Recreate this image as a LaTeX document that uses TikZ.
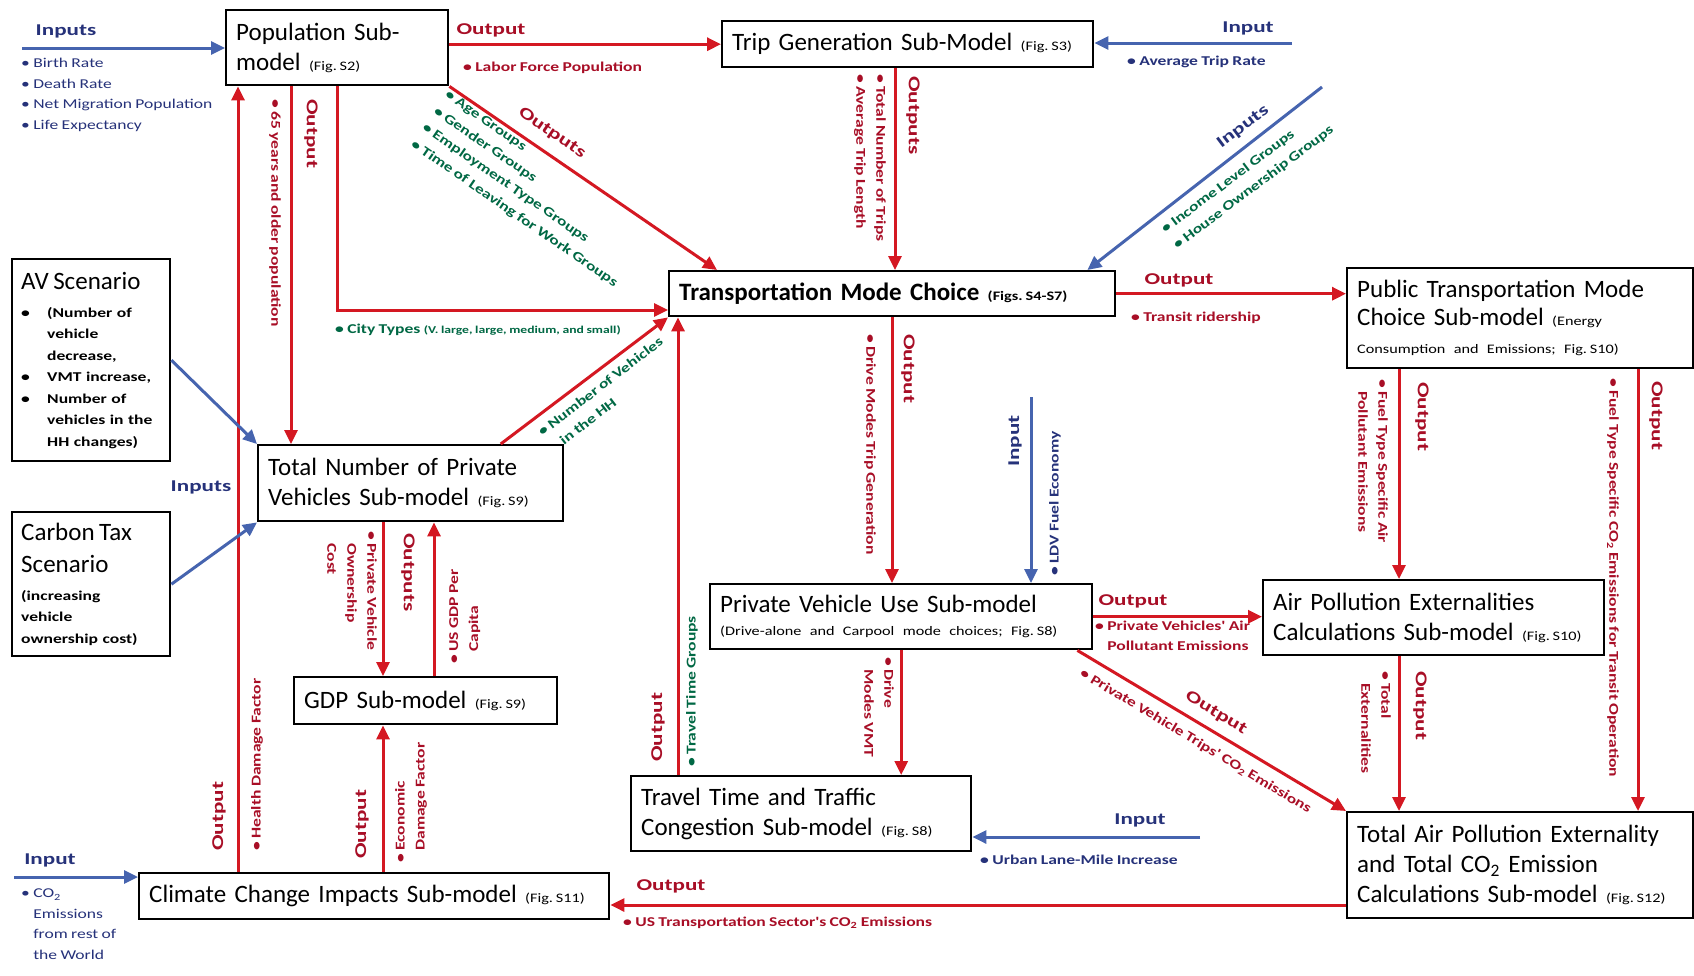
\documentclass[tikz,border=0pt]{standalone}
\usepackage{fontspec}
\setmainfont{Carlito}
\newfontfamily\carlA[FakeStretch=1.3,WordSpace=0.85]{Carlito}
\newfontfamily\carlB[FakeStretch=1.4]{Carlito}
\newfontfamily\carlC[FakeStretch=1.25,WordSpace=0.8]{Carlito}
\usetikzlibrary{arrows.meta}
\definecolor{arrred}{RGB}{212,24,34}
\definecolor{arrblue}{RGB}{70,100,175}
\definecolor{txtred}{RGB}{168,14,38}
\definecolor{txtblue}{RGB}{38,50,122}
\definecolor{txtgreen}{RGB}{0,104,68}
\newcommand\fTitle{\fontsize{25}{30}\selectfont}
\newcommand\fFig{\carlC\fontsize{13}{18}\selectfont}
\newcommand\fHead{\carlB\bfseries\fontsize{16.5}{20}\selectfont}
\newcommand\fLab{\carlA\bfseries\fontsize{13.5}{20}\selectfont}
\newcommand\fList{\carlA\fontsize{13.5}{20.5}\selectfont}
\newcommand\fSmall{\carlA\bfseries\fontsize{10.5}{14}\selectfont}
\newcommand\fBoxList{\carlA\bfseries\fontsize{13.5}{21.5}\selectfont}
\newcommand\fBoxTitle{\normalfont\mdseries\fontsize{25}{30}\selectfont}
\newcommand\bul{\makebox[26pt][l]{•}}
\newcommand\nobul{\makebox[26pt]{}}
\newcommand\fsp{\hspace{0.22em}}
\tikzset{
  box/.style={draw=black, line width=2.4pt, fill=white, inner xsep=10pt, inner ysep=3pt,
    align=left, anchor=north west, font=\fTitle},
  rarr/.style={draw=arrred, line width=3pt, -{Triangle[length=14pt,width=13pt]}},
  barr/.style={draw=arrblue, line width=3pt, -{Triangle[length=14pt,width=13pt]}},
  hdred/.style={font=\fHead, text=txtred, inner sep=1pt},
  hdblue/.style={font=\fHead, text=txtblue, inner sep=1pt},
  lbred/.style={font=\fLab, text=txtred, inner sep=1pt, align=left},
  lbgreen/.style={font=\fLab, text=txtgreen, inner sep=1pt, align=left},
  lbblue/.style={font=\fLab, text=txtblue, inner sep=1pt, align=left},
  lsblue/.style={font=\fList, text=txtblue, inner sep=1pt, align=left},
}
\begin{document}
\frenchspacing
\begin{tikzpicture}[x=1pt,y=-1pt]
\fill[white] (0,0) rectangle (1694,975);
\useasboundingbox (0,0) rectangle (1694,975);

% ---------- boxes ----------
\node[box, minimum width=222pt, minimum height=75pt, text width=202pt] (pop) at (225,9)
  {Population Sub-\\model {\fFig (Fig.\fsp S2)}};
\node[box, minimum width=371pt, minimum height=46pt, text width=351pt] (trip) at (721,20)
  {Trip Generation Sub-Model {\fFig (Fig.\fsp S3)}};
\node[box, minimum width=446pt, minimum height=45pt, text width=426pt] (mode) at (668,270)
  {\bfseries Transportation Mode Choice {\fFig (Figs.\fsp S4-S7)}};
\node[box, minimum width=346pt, minimum height=100pt, text width=326pt] (pub) at (1346,267)
  {Public Transportation Mode\\[-2pt]Choice Sub-model {\fFig (Energy}\\[-2pt]{\fFig Consumption and Emissions; Fig.\fsp S10)}};
\node[box, minimum width=158pt, minimum height=202pt, text width=140pt, inner xsep=9pt, font=\fBoxList] (av) at (11,258)
  {{\fBoxTitle AV Scenario}\\[6.5pt]
   \bul(Number of\\ \nobul vehicle\\ \nobul decrease,\\ \bul VMT increase,\\ \bul Number of\\ \nobul vehicles in the\\ \nobul HH changes)};
\node[box, minimum width=158pt, minimum height=144pt, text width=140pt, inner xsep=9pt, font=\fBoxList] (carbon) at (11,511)
  {{\fBoxTitle Carbon Tax}\\[10.5pt]{\fBoxTitle Scenario}\\[6.5pt](increasing\\vehicle\\ownership cost)};
\node[box, minimum width=305pt, minimum height=76pt, text width=285pt] (tnpv) at (257,444)
  {Total Number of Private\\Vehicles Sub-model {\fFig (Fig.\fsp S9)}};
\node[box, minimum width=263pt, minimum height=47pt, text width=243pt] (gdp) at (293,676)
  {GDP Sub-model {\fFig (Fig.\fsp S9)}};
\node[box, minimum width=382pt, minimum height=65pt, text width=362pt] (pvu) at (709,583)
  {Private Vehicle Use Sub-model\\[-7pt]{\fFig (Drive-alone and Carpool mode choices; Fig.\fsp S8)}};
\node[box, minimum width=341pt, minimum height=75pt, text width=321pt] (ape) at (1262,579)
  {Air Pollution Externalities\\Calculations Sub-model {\fFig (Fig.\fsp S10)}};
\node[box, minimum width=340pt, minimum height=75pt, text width=320pt] (tt) at (630,775)
  {Travel Time and Traffic\\Congestion Sub-model {\fFig (Fig.\fsp S8)}};
\node[box, minimum width=346pt, minimum height=106pt, text width=326pt] (tap) at (1346,811)
  {Total Air Pollution Externality\\and Total CO\textsubscript{2} Emission\\Calculations Sub-model {\fFig (Fig.\fsp S12)}};
\node[box, minimum width=470pt, minimum height=46pt, text width=450pt] (cc) at (138,872)
  {Climate Change Impacts Sub-model {\fFig (Fig.\fsp S11)}};

% ---------- free ends ----------
\coordinate (popin) at (22,48);
\coordinate (tripin) at (1292,43);
\coordinate (incin) at (1322,87);
\coordinate (ldvin) at (1031,397);
\coordinate (ttin) at (1200,837);
\coordinate (ccin) at (14,877);

% ---------- connectors ----------
\draw[barr] (popin) -- (pop.west |- popin);
\draw[rarr] (pop.east |- trip.west) -- (trip.west);
\draw[barr] (tripin) -- (trip.east |- tripin);
\draw[rarr] (trip.south -| 895,0) -- (mode.north -| 895,0);
\draw[rarr] (pop.south east) -- ([xshift=49pt]mode.north west);
\draw[rarr] (pop.south) |- (mode.west |- 0,310);
\draw[rarr] (pop.south -| 291,0) -- (tnpv.north -| 291,0);
\draw[rarr] (cc.north -| 238,0) -- (pop.south -| 238,0);
\draw[rarr] (tnpv.south -| 383,0) -- (gdp.north -| 383,0);
\draw[rarr] (gdp.north -| 434,0) -- (tnpv.south -| 434,0);
\draw[rarr] (cc.north -| 383,0) -- (gdp.south -| 383,0);
\draw[barr] (av.east) -- (tnpv.north west);
\draw[barr] (carbon.east) -- (tnpv.south west);
\draw[rarr] ([xshift=90pt]tnpv.north) -- (mode.south west);
\draw[rarr] (tt.north -| 678,0) -- (mode.south -| 678,0);
\draw[rarr] (mode.south -| 892,0) -- (pvu.north -| 892,0);
\draw[barr] (ldvin) -- (pvu.north -| ldvin);
\draw[rarr] (mode.east) -- (pub.west |- mode.east);
\draw[barr] (incin) -- ([xshift=-29pt]mode.north east);
\draw[rarr] (pvu.east) -- (ape.west |- pvu.east);
\draw[rarr] ([xshift=-16pt]pvu.south east) -- (tap.north west);
\draw[rarr] (pvu.south) -- (pvu.south |- tt.north);
\draw[barr] (ttin) -- (tt.east |- ttin);
\draw[rarr] (tap.west |- 0,905) -- (cc.east |- 0,905);
\draw[barr] (ccin) -- (cc.west |- ccin);
\draw[rarr] (pub.south -| 1399,0) -- (ape.north -| 1399,0);
\draw[rarr] (pub.south -| 1638,0) -- (tap.north -| 1638,0);
\draw[rarr] (ape.south -| 1399,0) -- (tap.north -| 1399,0);

% ---------- labels ----------
\node[hdblue] (l1) at (66,31) {Inputs};
\node[lsblue, anchor=north west] (l2) at (20,57) {• Birth Rate\\• Death Rate\\• Net Migration Population\\• Life Expectancy};
\node[hdred] (l3) at (491,30) {Output};
\node[lbred, anchor=west] (l4) at (462,68) {• Labor Force Population};
\node[hdblue] (l5) at (1248,28) {Input};
\node[lbblue, anchor=west] (l6) at (1126,62) {• Average Trip Rate};
\node[hdred, rotate=-90, anchor=west] (l7) at (913,75) {Outputs};
\node[lbred, rotate=-90, anchor=north west] (l8) at (887,73) {• Total Number of Trips\\• Average Trip Length};
\node[hdred, rotate=-90, anchor=west] (l9) at (311,98) {Output};
\node[lbred, rotate=-90, anchor=west] (l10) at (275,98) {• 65 years and older population};
\node[hdred, rotate=-34.6] (l11) at (552,133) {Outputs};
\node[lbgreen, rotate=-34.6, anchor=north west] (l12) at (449,88) {• Age Groups\\• Gender Groups\\• Employment Type Groups\\• Time of Leaving for Work Groups};
\node[lbgreen, anchor=west] (l13) at (334,330) {• City Types {\fSmall (V. large, large, medium, and small)}};
\node[hdblue, rotate=37] (l14) at (1243,127) {Inputs};
\node[lbgreen, rotate=37, anchor=north west] (l15) at (1158,226) {• Income Level Groups\\• House Ownership Groups};
\node[hdred] (l16) at (1179,280) {Output};
\node[lbred, anchor=west] (l17) at (1130,318) {• Transit ridership};
\node[lbgreen, rotate=37.5, anchor=north west] (l18) at (535,429) {• Number of Vehicles\\\hphantom{• }in the HH};
\node[hdblue] (l19) at (201,487) {Inputs};
\node[lbred, rotate=-90, anchor=north west] (l20) at (378,530) {• Private Vehicle\\\hphantom{• }Ownership\\\hphantom{• }Cost};
\node[hdred, rotate=-90, anchor=west] (l21) at (408,532) {Outputs};
\node[lbred, rotate=90, anchor=north west] (l22) at (448,665) {• US GDP Per\\\hphantom{• }Capita};
\node[hdred, rotate=90, anchor=west] (l23) at (219,852) {Output};
\node[lbred, rotate=90, anchor=west] (l24) at (257,852) {• Health Damage Factor};
\node[hdred, rotate=90, anchor=west] (l25) at (362,860) {Output};
\node[lbred, rotate=90, anchor=north west] (l26) at (394,864) {• Economic\\\hphantom{• }Damage Factor};
\node[hdred, rotate=-90, anchor=west] (l27) at (908,333) {Output};
\node[lbred, rotate=-90, anchor=west] (l28) at (870,333) {• Drive Modes Trip Generation};
\node[hdblue, rotate=90, anchor=west] (l29) at (1015,468) {Input};
\node[lbblue, rotate=90, anchor=west] (l30) at (1055,577) {• LDV Fuel Economy};
\node[hdred, rotate=90, anchor=west] (l31) at (658,763) {Output};
\node[lbgreen, rotate=90, anchor=west] (l32) at (692,768) {• Travel Time Groups};
\node[lbred, rotate=-90, anchor=north west] (l33) at (895,656) {• Drive\\\hphantom{• }Modes VMT};
\node[hdred] (l34) at (1133,601) {Output};
\node[lbred, anchor=north west] (l35) at (1094,620) {• Private Vehicles' Air\\\hphantom{• }Pollutant Emissions};
\node[hdred, rotate=-31] (l36) at (1216,713) {Output};
\node[lbred, rotate=-31, anchor=west] (l37) at (1080,672) {• Private Vehicle Trips' CO\textsubscript{2} Emissions};
\node[hdblue] (l38) at (1140,820) {Input};
\node[lbblue, anchor=west] (l39) at (979,860) {• Urban Lane-Mile Increase};
\node[hdred] (l40) at (671,886) {Output};
\node[lbred, anchor=west] (l41) at (622,923) {• US Transportation Sector's CO\textsubscript{2} Emissions};
\node[hdblue] (l42) at (50,860) {Input};
\node[lsblue, anchor=north west] (l43) at (20,888) {• CO\textsubscript{2}\\\hphantom{• }Emissions\\\hphantom{• }from rest of\\\hphantom{• }the World};
\node[hdred, rotate=-90, anchor=west] (l44) at (1422,381) {Output};
\node[lbred, rotate=-90, anchor=north west] (l45) at (1389,378) {• Fuel Type Specific Air\\\hphantom{• }Pollutant Emissions};
\node[hdred, rotate=-90, anchor=west] (l46) at (1656,380) {Output};
\node[lbred, rotate=-90, anchor=west] (l47) at (1613,377) {• Fuel Type Specific CO\textsubscript{2} Emissions for Transit Operation};
\node[hdred, rotate=-90, anchor=west] (l48) at (1420,670) {Output};
\node[lbred, rotate=-90, anchor=north west] (l49) at (1392,670) {• Total\\\hphantom{• }Externalities};
\end{tikzpicture}
\end{document}
